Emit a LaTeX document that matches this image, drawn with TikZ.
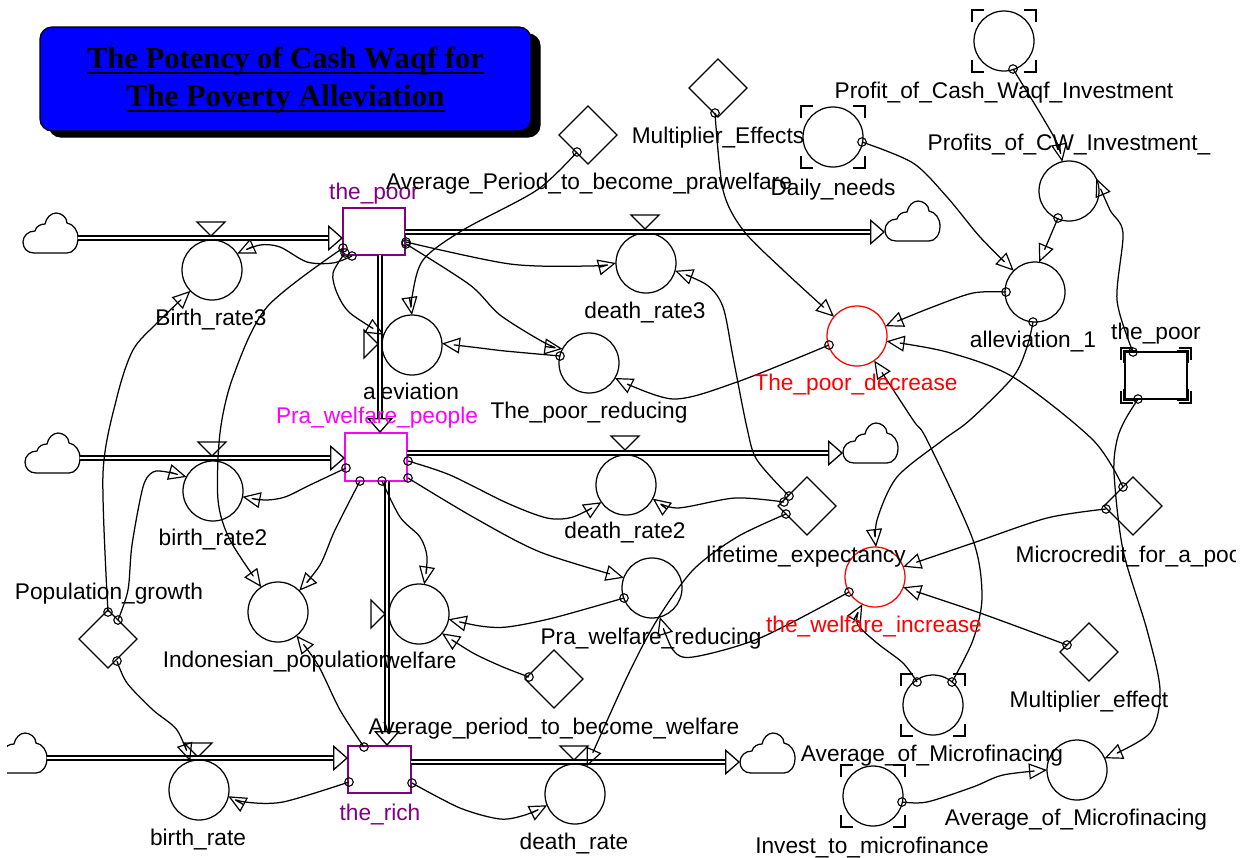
\documentclass[tikz,border=0pt]{standalone}
\usepackage{fontspec}
\setmainfont{Liberation Sans}
\newfontfamily\titlefont[Kerning=Off]{Liberation Serif}
\usetikzlibrary{arrows.meta,calc,shapes.geometric}
\definecolor{stockpurple}{RGB}{128,0,128}
\definecolor{stockmagenta}{RGB}{255,0,255}
\definecolor{pureblue}{RGB}{0,0,255}
\definecolor{purered}{RGB}{255,0,0}
\tikzset{
  x=1pt,y=-1pt,
  aux/.style={draw,circle,minimum size=60pt,inner sep=0pt,outer sep=0pt},
  redaux/.style={aux,draw=purered},
  dia/.style={draw,diamond,minimum size=58pt,inner sep=0pt,outer sep=0pt},
  stockbox/.style={draw,rectangle,inner sep=0pt,outer sep=0pt},
  tailn/.style={draw,circle,minimum size=8.5pt,inner sep=0pt,outer sep=0pt,line width=1.1pt},
  conn/.style={-{Triangle[open,length=18pt,width=16pt,line width=1.2pt]},line join=round},
  flowline/.style={double,double distance=2.3pt,line width=1.4pt,-{Triangle[open,length=15pt,width=26pt,line width=1.3pt]}},
  lab/.style={anchor=base,inner sep=0pt,font=\fontsize{22.7}{26}\selectfont},
  titletext/.style={anchor=base,inner sep=0pt,font=\titlefont\bfseries\fontsize{30.6}{34}\selectfont},
  titletextb/.style={anchor=base,inner sep=0pt,font=\titlefont\bfseries\fontsize{31.3}{34}\selectfont},
}
\newcommand\lbl[5][black]{\node[lab,text=#1] (#2) at (#3,#4+8) {#5};}
\newcommand\lnk[4]{\node[tailn] (#1) at (#2) {}; \draw[conn] plot[smooth,tension=0.5] coordinates {(#1.center) #3 (#4)};}
\newcommand\cloudat[3]{\begin{scope}[shift={(#2,#3)}]
 \draw (11,40) .. controls (4,40) and (0,35) .. (0,29) .. controls (0,23) and (5,18) .. (12,18) .. controls (13,13) and (18,11) .. (22,11) .. controls (23,5) and (28,0) .. (33,0) .. controls (38,0) and (44,4) .. (44,10) .. controls (50,11) and (55,17) .. (55,25) .. controls (55,34) and (50,40) .. (44,40) -- cycle;
 \node[inner sep=0pt,minimum size=0pt] (#1) at (27,20) {};
 \end{scope}}
\newcommand\vdown[2]{\draw[line join=miter] (#1-14,#2-14) -- (#1+14,#2-14) -- (#1,#2) -- cycle;}
\newcommand\vright[2]{\draw[line join=miter] (#1-14,#2-14) -- (#1-14,#2+14) -- (#1,#2) -- cycle;}
\newcommand\brk[4]{\draw (#1-#3,#2-#4+12) -- (#1-#3,#2-#4) -- (#1-#3+12,#2-#4);
 \draw (#1+#3-12,#2-#4) -- (#1+#3,#2-#4) -- (#1+#3,#2-#4+12);
 \draw (#1-#3,#2+#4-12) -- (#1-#3,#2+#4) -- (#1-#3+12,#2+#4);
 \draw (#1+#3-12,#2+#4) -- (#1+#3,#2+#4) -- (#1+#3,#2+#4-12);}
\newsavebox\ulbox
\newcommand\ulx[1]{\sbox\ulbox{#1}\rlap{\rule[-6pt]{\wd\ulbox}{2.2pt}}\usebox\ulbox}
\begin{document}
\begin{tikzpicture}[line width=1.25pt]
\useasboundingbox (0,0) rectangle (1247,857);
\clip (7,0) rectangle (1235,857);

% title
\draw[fill=black,rounded corners=12pt] (49,34) rectangle (540,137);
\node[draw,fill=pureblue,rounded corners=12pt,minimum width=491pt,minimum height=104pt,inner sep=0pt,outer sep=0pt] (titlebox) at (285.5,79) {};
\node[titletext] (t1) at (285.5,68) {\ulx{The Potency of Cash Waqf for}};
\node[titletextb] (t2) at (285.5,106) {\ulx{The Poverty Alleviation}};

% clouds
\cloudat{c1}{23}{213}
\cloudat{c2}{885}{201}
\cloudat{c3}{25}{433}
\cloudat{c4}{843}{423}
\cloudat{c5}{-8}{733}
\cloudat{c6}{740}{733}
\coordinate (c1e) at (78,238);
\coordinate (c2w) at (885,232);
\coordinate (c3e) at (80,458);
\coordinate (c4w) at (843,453);
\coordinate (c5e) at (47,758);
\coordinate (c6w) at (740,762);

% stocks
\node[stockbox,draw=stockpurple,minimum width=62pt,minimum height=47pt] (poor) at (374,231.5) {};
\node[stockbox,draw=stockmagenta,minimum width=62pt,minimum height=48pt] (pra) at (376,457) {};
\node[stockbox,draw=stockpurple,minimum width=63pt,minimum height=47pt] (rich) at (379.5,769.5) {};
\node[stockbox,minimum width=62pt,minimum height=47pt] (gpoor) at (1156,375.5) {};
\brk{1156}{375.5}{35}{27.5}
\brk{1156}{375.5}{32.5}{25}

% circles
\node[aux] (br3) at (212,270) {};
\node[aux] (br2) at (213,491) {};
\node[aux] (br) at (199,790) {};
\node[aux] (alev) at (412,345) {};
\node[aux] (welf) at (419,614) {};
\node[aux] (dr3) at (646,263) {};
\node[aux] (dr2) at (626,485) {};
\node[aux] (dr) at (575,794) {};
\node[aux] (pred) at (589,363) {};
\node[aux] (prared) at (652,588) {};
\node[aux] (indo) at (278,612) {};
\node[redaux] (dec) at (857,336) {};
\node[redaux] (winc) at (875,577) {};
\node[aux] (all) at (1035,292) {};
\node[aux] (prof) at (1069,191) {};
\node[aux] (gprof) at (1004,41) {};
\brk{1004}{41}{32}{31}
\node[aux] (daily) at (833,137) {};
\brk{833}{137}{32}{31}
\node[aux] (gavg) at (933,705) {};
\brk{933}{705}{32}{31}
\node[aux] (avg) at (1077,770) {};
\node[aux] (inv) at (873,796) {};
\brk{873}{796}{32}{31}

% diamonds
\node[dia] (dperiod) at (588,135) {};
\node[dia] (dmult) at (718,88) {};
\node[dia] (dlife) at (807,506) {};
\node[dia] (dmicro) at (1133,506) {};
\node[dia] (dmeff) at (1089,652) {};
\node[dia] (dwel) at (554,679) {};
\node[dia] (dpop) at (108,639) {};

% valves
\vdown{211}{236}
\vdown{645}{229}
\vdown{212}{456}
\vdown{625}{450}
\vdown{198}{757}
\vdown{574}{760}
\vright{378}{344}
\vright{385}{614}

% flows
\draw[flowline] (c1e) -- (poor.west |- c1e);
\draw[flowline] (poor.east |- c2w) -- (c2w);
\draw[flowline] (c3e) -- (pra.west |- c3e);
\draw[flowline] (pra.east |- c4w) -- (c4w);
\draw[flowline] (c5e) -- (rich.west |- c5e);
\draw[flowline] (rich.east |- c6w) -- (c6w);
\coordinate (f1a) at (380,255);
\coordinate (f2a) at (387,481);
\draw[flowline] (f1a) -- (f1a |- pra.north);
\draw[flowline] (f2a) -- (f2a |- rich.north);

% connectors
\lnk{k1}{352,256}{(333,263) (307,262) (280,247) (260,245)}{br3.33}
\lnk{k2}{343,248}{(267,307) (233,377) (220,433) (218,500) (230,540)}{indo.124}
\lnk{k3}{345,253}{(333,273) (337,293) (350,313)}{alev.160}
\lnk{k4}{406,242}{(510,264) (590,266)}{dr3.180}
\lnk{k5}{406,244}{(470,285) (500,315) (545,343)}{pred.152}
\lnk{k6}{577,152}{(537,190) (463,230) (423,260) (412,297)}{alev.90}
\lnk{k7}{560,356}{(505,351) (480,348)}{alev.3}
\lnk{k8}{829,345}{(737,382) (673,399)}{pred.-30}
\lnk{k9}{108,612}{(103,473) (117,397) (133,350) (157,323)}{br3.224}
\lnk{k10}{118,620}{(128,590) (132,545) (143,487) (153,472) (167,472)}{br2.152}
\lnk{k11}{117,661}{(127,683) (153,710) (177,730)}{br.107}
\lnk{k12}{349,782}{(283,802) (245,802)}{br.-12}
\lnk{k13}{364,747}{(340,710) (318,665)}{indo.-52}
\lnk{k14}{412,783}{(460,808) (500,819) (525,815)}{dr.202}
\lnk{k15}{346,468}{(310,485) (285,497) (265,500)}{br2.-11}
\lnk{k16}{360,481}{(335,530) (320,565)}{indo.45}
\lnk{k17}{382,481}{(400,517) (420,537) (427,557)}{welf.80}
\lnk{k18}{408,461}{(450,475) (507,503) (547,518) (573,517)}{dr2.215}
\lnk{k19}{408,478}{(473,517) (540,552)}{prared.160}
\lnk{k20}{624,598}{(553,618) (507,627) (480,626)}{welf.-10}
\lnk{k21}{529,677}{(503,667) (473,653)}{welf.-40}
\lnk{k22}{789,496}{(757,460) (747,428) (733,357) (723,307) (707,285)}{dr3.-15}
\lnk{k23}{786,514}{(737,537) (693,570) (657,620) (627,677)}{dr.67}
\lnk{k24}{784,502}{(735,498) (677,508)}{dr2.-27}
\lnk{k25}{715,113}{(723,190) (743,230) (783,270)}{dec.140}
\lnk{k26}{862,142}{(913,163) (947,197) (980,237)}{all.135}
\lnk{k27}{1013,69}{(1040,113) (1057,143)}{prof.103}
\lnk{k28}{1058,218}{}{all.82}
\lnk{k29}{1133,352}{(1117,300) (1123,233) (1110,210)}{prof.25}
\lnk{k30}{1006,292}{(973,293) (930,308)}{dec.19}
\lnk{k31}{1033,322}{(1027,347) (1013,377) (970,420) (943,440) (897,477) (877,520)}{winc.88}
\lnk{k32}{1138,399}{(1125,420) (1117,440) (1114,473) (1123,550) (1147,630) (1160,690) (1150,733)}{avg.23}
\lnk{k33}{1123,487}{(1093,440) (1013,377) (947,352)}{dec.-10}
\lnk{k34}{1106,509}{(1047,518) (973,543)}{winc.20}
\lnk{k35}{1067,645}{(980,613)}{winc.-20}
\lnk{k36}{849,592}{(760,638) (693,657) (673,650)}{prared.-75}
\lnk{k37}{917,682}{(903,663) (877,643) (857,623)}{winc.-115}
\lnk{k38}{952,682}{(973,640) (982,597) (973,540) (927,440) (913,420)}{dec.-55}
\lnk{k39}{902,802}{(927,802) (973,787) (1003,775)}{avg.180}

% labels
\lbl[stockpurple]{l1}{374}{191}{the\_poor}
\lbl[stockmagenta]{l2}{377}{415}{Pra\_welfare\_people}
\lbl[stockpurple]{l3}{380}{812}{the\_rich}
\lbl{l4}{1156}{331}{the\_poor}
\lbl{l5}{211}{317}{Birth\_rate3}
\lbl{l6}{213}{537}{birth\_rate2}
\lbl{l7}{198}{837}{birth\_rate}
\lbl{l8}{411}{391}{aleviation}
\lbl{l9}{420}{660}{welfare}
\lbl{l10}{645}{310}{death\_rate3}
\lbl{l11}{625}{530}{death\_rate2}
\lbl{l12}{574}{841}{death\_rate}
\lbl{l13}{589}{410}{The\_poor\_reducing}
\lbl{l14}{651}{636}{Pra\_welfare\_reducing}
\lbl{l15}{277}{659}{Indonesian\_population}
\lbl[purered]{l16}{856}{382}{The\_poor\_decrease}
\lbl[purered]{l17}{874}{624}{the\_welfare\_increase}
\lbl{l18}{1033}{339}{alleviation\_1}
\lbl{l19}{1069}{142}{Profits\_of\_CW\_Investment\_}
\lbl{l20}{1004}{90}{Profit\_of\_Cash\_Waqf\_Investment}
\lbl{l21}{833}{187}{Daily\_needs}
\lbl{l22}{932}{753}{Average\_of\_Microfinacing}
\lbl{l23}{1076}{817}{Average\_of\_Microfinacing}
\lbl{l24}{872}{845}{Invest\_to\_microfinance}
\lbl{l25}{589}{181}{Average\_Period\_to\_become\_prawelfare}
\lbl{l26}{718}{135}{Multiplier\_Effects}
\lbl{l27}{806}{554}{lifetime\_expectancy}
\node[lab,anchor=base west] (l28) at (1015,562) {Microcredit\_for\_a\_poor};
\lbl{l29}{1089}{699}{Multiplier\_effect}
\lbl{l30}{554}{726}{Average\_period\_to\_become\_welfare}
\lbl{l31}{109}{591}{Population\_growth}
\end{tikzpicture}
\end{document}
